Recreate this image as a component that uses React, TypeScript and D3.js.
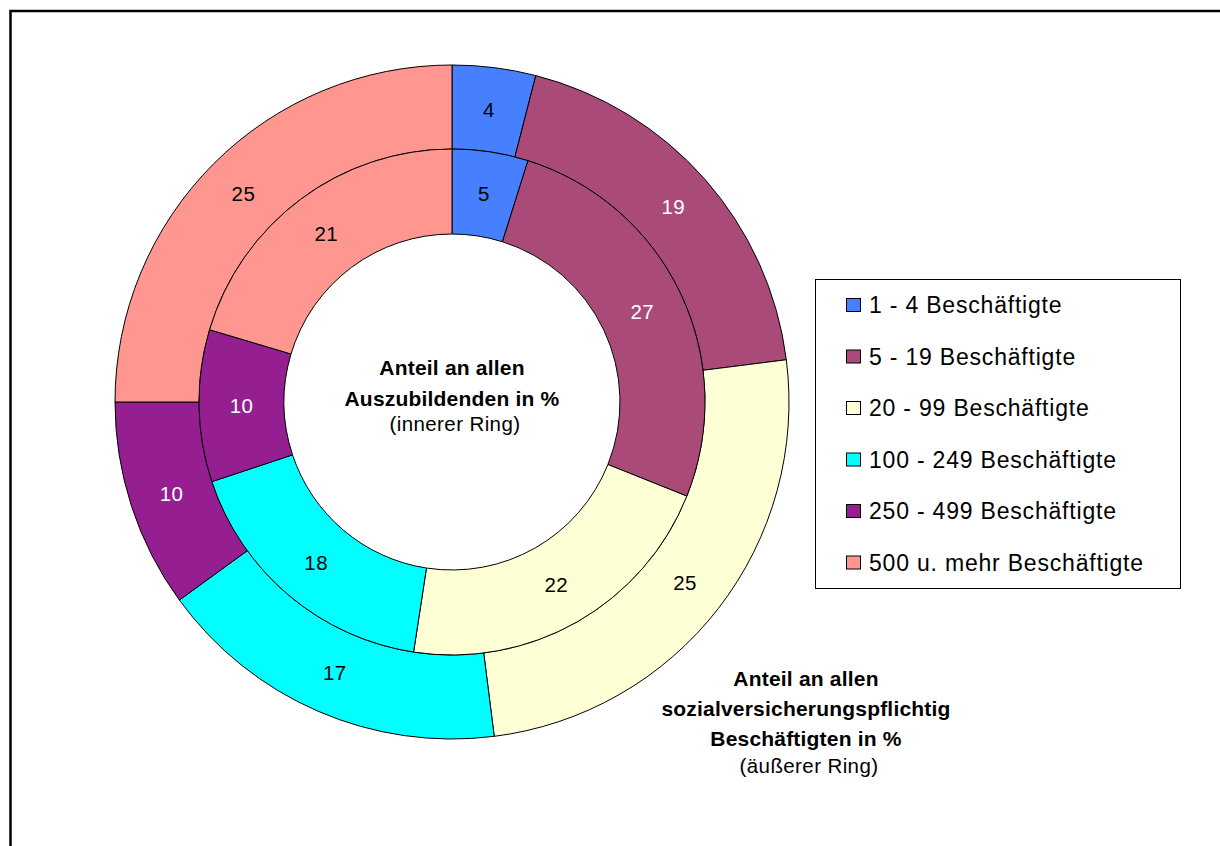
import React from "react";
import * as d3 from "d3";

// Betriebsgrößenklassen
const categories = [
  "1 - 4 Beschäftigte",
  "5 - 19 Beschäftigte",
  "20 - 99 Beschäftigte",
  "100 - 249 Beschäftigte",
  "250 - 499 Beschäftigte",
  "500 u. mehr Beschäftigte",
];

// Anteil an allen Auszubildenden in % (innerer Ring)
const azubiShare = [5, 27, 22, 18, 10, 21];

// Anteil an allen sozialversicherungspflichtig Beschäftigten in % (äußerer Ring)
const beschaeftigteShare = [4, 19, 25, 17, 10, 25];

const colors = ["#4680ff", "#aa4a78", "#ffffd6", "#00ffff", "#951f90", "#ff9690"];
const labelColors = ["#000", "#fff", "#000", "#000", "#fff", "#000"];

const innerTitle = ["Anteil an allen", "Auszubildenden in %"];
const innerNote = "(innerer Ring)";
const outerTitle = ["Anteil an allen", "sozialversicherungspflichtig", "Beschäftigten in %"];
const outerNote = "(äußerer Ring)";

const W = 1220;
const H = 846;
const cx = 452;
const cy = 402;
const rHole = 168;
const rMid = 253;
const rOuter = 337;
const font = "'Liberation Sans', Arial, Helvetica, sans-serif";

const pie = d3
  .pie<number>()
  .sort(null)
  .value((d) => d)
  .startAngle(0)
  .endAngle(2 * Math.PI);

function Ring({ values, r0, r1 }: { values: number[]; r0: number; r1: number }) {
  const arc = d3.arc<d3.PieArcDatum<number>>().innerRadius(r0).outerRadius(r1);
  const arcs = pie(values);
  return (
    <g>
      {arcs.map((a, i) => (
        <path key={"s" + i} d={arc(a) || ""} fill={colors[i]} stroke="#000" strokeWidth={1} />
      ))}
      {arcs.map((a, i) => {
        const [x, y] = arc.centroid(a);
        return (
          <text
            key={"t" + i}
            x={x}
            y={y}
            dy="0.36em"
            textAnchor="middle"
            fill={labelColors[i]}
            fontSize={20.5}
            letterSpacing={0.4}
          >
            {a.data}
          </text>
        );
      })}
    </g>
  );
}

export default function App() {
  const legendX = 815;
  const legendY = 279;
  const rowStep = 51.5;
  return (
    <svg
      width={W}
      height={H}
      style={{ position: "absolute", left: 0, top: 0, display: "block", background: "#fff" }}
      fontFamily={font}
    >
      <rect x={0} y={0} width={W} height={H} fill="#fff" />
      {/* chart frame, running off the right and bottom edges */}
      <path d={`M10.5,${H + 5} V11 H${W + 5}`} fill="none" stroke="#000" strokeWidth={2.5} />

      <g transform={`translate(${cx},${cy})`}>
        <Ring values={beschaeftigteShare} r0={rMid} r1={rOuter} />
        <Ring values={azubiShare} r0={rHole} r1={rMid} />
      </g>

      {/* inner ring caption */}
      <g textAnchor="middle">
        {innerTitle.map((t, i) => (
          <text key={i} x={cx} y={375 + i * 31} fontWeight="bold" fontSize={21} letterSpacing={0.2}>
            {t}
          </text>
        ))}
        <text x={cx + 3} y={431} fontSize={20.5} letterSpacing={0.4}>
          {innerNote}
        </text>
      </g>

      {/* outer ring caption */}
      <g textAnchor="middle">
        {outerTitle.map((t, i) => (
          <text key={i} x={806} y={686 + i * 30} fontWeight="bold" fontSize={21} letterSpacing={0.2}>
            {t}
          </text>
        ))}
        <text x={809} y={773} fontSize={20.5} letterSpacing={0.4}>
          {outerNote}
        </text>
      </g>

      {/* legend */}
      <rect x={legendX + 0.5} y={legendY + 0.5} width={365} height={309} fill="#fff" stroke="#000" strokeWidth={1} />
      {categories.map((c, i) => {
        const yc = 305 + i * rowStep;
        return (
          <g key={c}>
            <rect x={846.5} y={yc - 6.5} width={14} height={13} fill={colors[i]} stroke="#000" strokeWidth={1} />
            <text x={869} y={yc + 8} fontSize={23} letterSpacing={0.8}>
              {c}
            </text>
          </g>
        );
      })}
    </svg>
  );
}
